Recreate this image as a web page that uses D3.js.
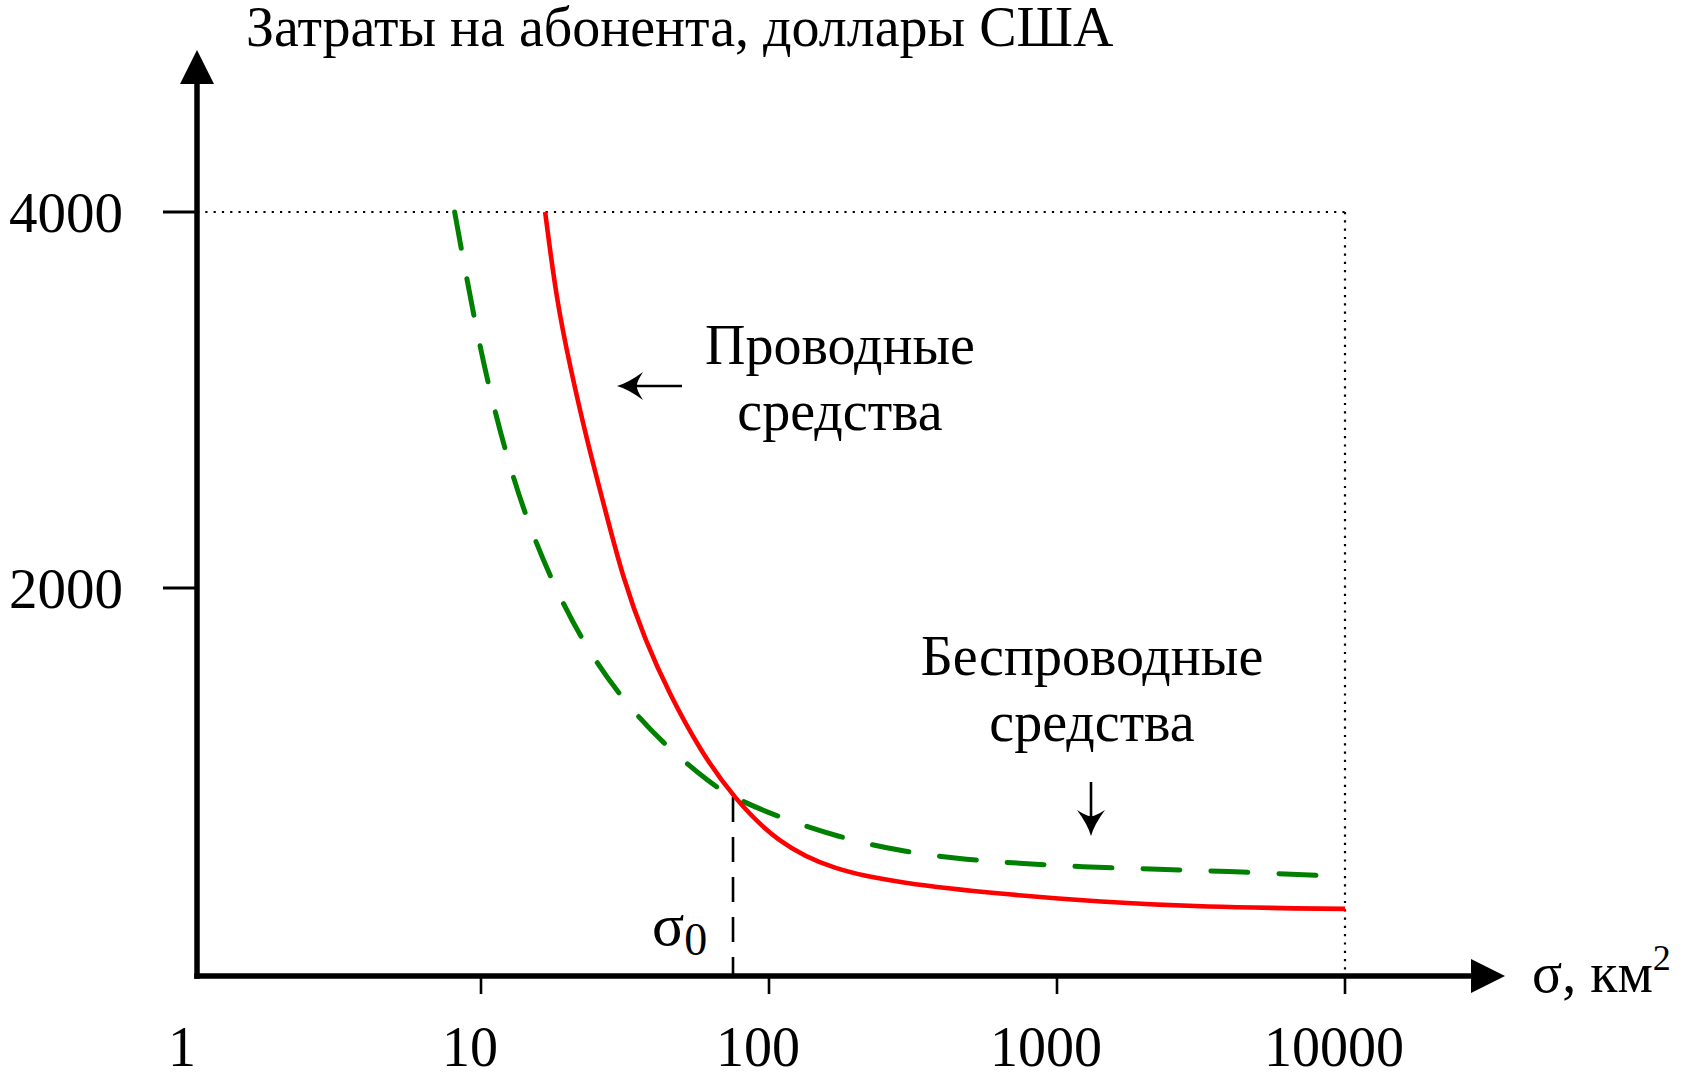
<!DOCTYPE html>
<html>
<head>
<meta charset="utf-8">
<script src="https://cdn.jsdelivr.net/npm/d3@7"></script>
<style>
  html, body { margin: 0; padding: 0; background: #fff; }
  svg text { font-family: 'Liberation Serif', 'Times New Roman', serif; fill: #000; }
</style>
</head>
<body>
<div id="chart"></div>
<script>
// values (x: area, km^2, log; y: cost per subscriber, USD)
const xTicks = [10, 100, 1000, 10000];
const xTickLabels = ['1', '10', '100', '1000', '10000'];
const xLabelValues = [1, 10, 100, 1000, 10000];
const yTicks = [2000, 4000];

const wiredX = [16.7, 18.3, 20.4, 23.3, 27.0, 31.1, 37.1, 45.3, 57.6, 75, 107, 167, 285, 634, 1422, 3162, 10000];
const wiredY = [4000, 3530, 3175, 2787, 2415, 2053, 1723, 1431, 1138, 888, 644, 500, 431, 372, 330, 303, 293];

const wirelessX = [8.1, 8.6, 9.5, 10.6, 12.1, 14.2, 17.4, 22.1, 29.7, 42.5, 63.9, 75, 103, 172, 292, 499, 720, 1230, 2118, 3651, 10000];
const wirelessY = [4000, 3780, 3425, 3080, 2735, 2390, 2055, 1735, 1440, 1175, 950, 888, 793, 676, 596, 553, 537, 516, 505, 495, 465];

const sigma0 = 75;
const sigma0Cost = 888;

const width = 1688;
const height = 1074;
const originX = 197;
const originY = 976;

const svg = d3.select('#chart')
  .append('svg')
  .attr('width', width)
  .attr('height', height);

const x = d3.scaleLog().domain([10, 10000]).range([481, 1345]);
const y = d3.scaleLinear().domain([2000, 4000]).range([588, 212]);

// dotted frame at 4000 / 10000
svg.append('line')
  .attr('x1', originX).attr('y1', y(4000))
  .attr('x2', x(10000)).attr('y2', y(4000))
  .attr('stroke', '#000').attr('stroke-width', 2.2)
  .attr('stroke-dasharray', '2.2,6.1');
svg.append('line')
  .attr('x1', x(10000)).attr('y1', y(4000))
  .attr('x2', x(10000)).attr('y2', originY)
  .attr('stroke', '#000').attr('stroke-width', 2.2)
  .attr('stroke-dasharray', '2.2,6.1');

// sigma0 marker
svg.append('line')
  .attr('x1', x(sigma0)).attr('y1', y(sigma0Cost))
  .attr('x2', x(sigma0)).attr('y2', originY)
  .attr('stroke', '#000').attr('stroke-width', 2.6)
  .attr('stroke-dasharray', '25,15');

const line = d3.line()
  .x((d) => x(d[0]))
  .y((d) => y(d[1]))
  .curve(d3.curveBasis);

svg.append('path')
  .datum(wirelessX.map((v, i) => [v, wirelessY[i]]))
  .attr('d', line)
  .attr('fill', 'none')
  .attr('stroke', '#008000')
  .attr('stroke-width', 5)
  .attr('stroke-linecap', 'round')
  .attr('stroke-dasharray', '37,31');

svg.append('path')
  .datum(wiredX.map((v, i) => [v, wiredY[i]]))
  .attr('d', line)
  .attr('fill', 'none')
  .attr('stroke', '#ff0000')
  .attr('stroke-width', 4.6);

// axes
svg.append('line')
  .attr('x1', originX).attr('y1', originY + 2.75)
  .attr('x2', originX).attr('y2', 82)
  .attr('stroke', '#000').attr('stroke-width', 5.5);
svg.append('path')
  .attr('d', `M${originX},50 L${originX - 17},84 L${originX + 17},84 Z`)
  .attr('fill', '#000');
svg.append('line')
  .attr('x1', originX - 2.75).attr('y1', originY)
  .attr('x2', 1474).attr('y2', originY)
  .attr('stroke', '#000').attr('stroke-width', 5.5);
svg.append('path')
  .attr('d', `M1505,${originY} L1471,${originY - 17} L1471,${originY + 17} Z`)
  .attr('fill', '#000');

// ticks
svg.selectAll('line.ytick')
  .data(yTicks)
  .enter()
  .append('line')
  .attr('class', 'ytick')
  .attr('x1', 163).attr('x2', originX)
  .attr('y1', (d) => y(d)).attr('y2', (d) => y(d))
  .attr('stroke', '#000').attr('stroke-width', 3);

svg.selectAll('text.ylabel')
  .data(yTicks)
  .enter()
  .append('text')
  .attr('class', 'ylabel')
  .attr('x', 123)
  .attr('y', (d) => y(d) + 20)
  .attr('text-anchor', 'end')
  .attr('font-size', 57)
  .text((d) => d);

svg.selectAll('line.xtick')
  .data(xTicks)
  .enter()
  .append('line')
  .attr('class', 'xtick')
  .attr('x1', (d) => x(d)).attr('x2', (d) => x(d))
  .attr('y1', originY).attr('y2', 994)
  .attr('stroke', '#000').attr('stroke-width', 2.6);

svg.selectAll('text.xlabel')
  .data(xLabelValues)
  .enter()
  .append('text')
  .attr('class', 'xlabel')
  .attr('x', (d) => x(d) - 11)
  .attr('y', 1066)
  .attr('text-anchor', 'middle')
  .attr('font-size', 56)
  .text((d, i) => xTickLabels[i]);

// axis titles
svg.append('text')
  .attr('x', 246)
  .attr('y', 46)
  .attr('font-size', 56)
  .text('Затраты на абонента, доллары США');

const xTitle = svg.append('text')
  .attr('x', 1532)
  .attr('y', 992)
  .attr('font-size', 56);
xTitle.append('tspan').text('σ, км');
xTitle.append('tspan')
  .attr('dy', -22)
  .attr('font-size', 36)
  .text('2');

const s0 = svg.append('text')
  .attr('x', 652)
  .attr('y', 945)
  .attr('font-size', 60);
s0.append('tspan').text('σ');
s0.append('tspan')
  .attr('dy', 10)
  .attr('font-size', 46)
  .text('0');

// annotations
const note = (lines, cx, baseY) => {
  svg.append('text')
    .attr('text-anchor', 'middle')
    .attr('font-size', 56)
    .selectAll('tspan')
    .data(lines)
    .enter()
    .append('tspan')
    .attr('x', cx)
    .attr('y', (d, i) => baseY + i * 66)
    .text((d) => d);
};
note(['Проводные', 'средства'], 840, 364);
note(['Беспроводные', 'средства'], 1092, 675);

// curved-barb arrowhead, tip at origin, pointing along -x before rotation
const headPath = 'M0,0 Q11,-3 26,-14 Q19,-3 20,0 Q19,3 26,14 Q11,3 0,0 Z';

svg.append('line')
  .attr('x1', 682).attr('y1', 386)
  .attr('x2', 630).attr('y2', 386)
  .attr('stroke', '#000').attr('stroke-width', 2.6);
svg.append('path')
  .attr('d', headPath)
  .attr('transform', 'translate(617,386)')
  .attr('fill', '#000');

svg.append('line')
  .attr('x1', 1091).attr('y1', 782)
  .attr('x2', 1091).attr('y2', 822)
  .attr('stroke', '#000').attr('stroke-width', 2.6);
svg.append('path')
  .attr('d', headPath)
  .attr('transform', 'translate(1091,836) rotate(-90)')
  .attr('fill', '#000');
</script>
</body>
</html>
